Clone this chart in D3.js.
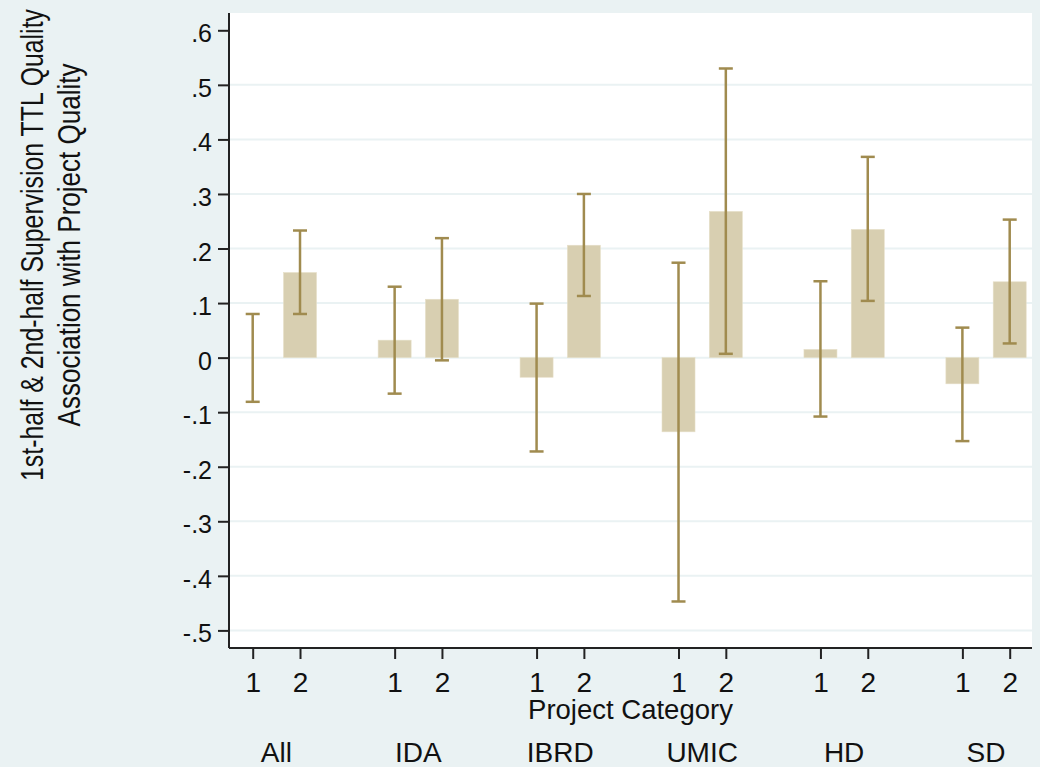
<!DOCTYPE html>
<html>
<head>
	<meta http-equiv="Content-Type" content="text/html;charset=utf-8">
	<title>TTL Quality by Project Category</title>
	<script src="https://d3js.org/d3.v7.min.js"></script>
	<style type="text/css">
		body { margin: 0; background: #eaf2f3; }
		svg { display: block; font-family: "Liberation Sans", Arial, sans-serif; }
		text { fill: #111; }
	</style>
</head>
<body>
	<svg width="1040" height="767"></svg>

	<script type="text/javascript">
		// values
		var groups = ["All", "IDA", "IBRD", "UMIC", "HD", "SD"];
		var halves = ["1", "2"];
		var half1 = [0.000, 0.032, -0.036, -0.136, 0.015, -0.048];
		var half1Lo = [-0.081, -0.066, -0.172, -0.447, -0.108, -0.153];
		var half1Hi = [0.080, 0.130, 0.099, 0.174, 0.140, 0.055];
		var half2 = [0.156, 0.107, 0.206, 0.268, 0.235, 0.139];
		var half2Lo = [0.080, -0.005, 0.113, 0.007, 0.104, 0.026];
		var half2Hi = [0.233, 0.219, 0.300, 0.530, 0.368, 0.253];
		var yTicks = [-0.5, -0.4, -0.3, -0.2, -0.1, 0, 0.1, 0.2, 0.3, 0.4, 0.5, 0.6];
		var gridVals = [-0.5, -0.4, -0.3, -0.2, -0.1, 0, 0.1, 0.2, 0.3, 0.4, 0.5];

		var svg = d3.select("svg");
		var plot = { left: 229, right: 1032, top: 13, bottom: 648 };

		// one slot per bar, one empty slot between groups
		var x = d3.scaleLinear().domain([0, 16]).range([252.7, 1009.7]);
		var y = d3.scaleLinear().domain([-0.5, 0.6]).range([630.4, 30.3]);
		var barW = 33, capW = 14;
		var barCol = "#d8cfb1", errCol = "#a08b4f";

		var rows = [];
		groups.forEach(function (g, i) {
			rows.push({ g: i, h: 0, v: half1[i], lo: half1Lo[i], hi: half1Hi[i] });
			rows.push({ g: i, h: 1, v: half2[i], lo: half2Lo[i], hi: half2Hi[i] });
		});
		function pos(d) { return x(d.g * 3 + d.h); }

		svg.append("rect")
			.attr("x", plot.left).attr("y", plot.top)
			.attr("width", plot.right - plot.left).attr("height", plot.bottom - plot.top)
			.attr("fill", "white");

		svg.selectAll("line.grid")
			.data(gridVals)
			.enter().append("line").attr("class", "grid")
				.attr("x1", plot.left).attr("x2", plot.right)
				.attr("y1", function (v) { return y(v); })
				.attr("y2", function (v) { return y(v); })
				.attr("stroke", "#eaf2f3").attr("stroke-width", 2);

		svg.selectAll("rect.bar")
			.data(rows)
			.enter().append("rect").attr("class", "bar")
				.attr("x", function (d) { return pos(d) - barW / 2; })
				.attr("width", barW)
				.attr("y", function (d) { return y(Math.max(0, d.v)); })
				.attr("height", function (d) { return Math.abs(y(d.v) - y(0)); })
				.attr("fill", barCol)
				.attr("stroke", "#e6dfc8").attr("stroke-width", 0.6);

		var err = svg.selectAll("g.err")
			.data(rows)
			.enter().append("g").attr("class", "err")
				.attr("stroke", errCol).attr("stroke-width", 2.5);
		err.append("line")
			.attr("x1", pos).attr("x2", pos)
			.attr("y1", function (d) { return y(d.lo); })
			.attr("y2", function (d) { return y(d.hi); });
		err.append("line")
			.attr("x1", function (d) { return pos(d) - capW / 2; })
			.attr("x2", function (d) { return pos(d) + capW / 2; })
			.attr("y1", function (d) { return y(d.hi); })
			.attr("y2", function (d) { return y(d.hi); });
		err.append("line")
			.attr("x1", function (d) { return pos(d) - capW / 2; })
			.attr("x2", function (d) { return pos(d) + capW / 2; })
			.attr("y1", function (d) { return y(d.lo); })
			.attr("y2", function (d) { return y(d.lo); });

		// y axis, Stata style labels (.6, -.5)
		var yAxis = d3.axisLeft(y)
			.tickValues(yTicks)
			.tickSize(11)
			.tickPadding(6)
			.tickFormat(function (v) {
				if (v === 0) return "0";
				var s = v.toFixed(1);
				return s.replace("0.", ".");
			});
		var ya = svg.append("g")
			.attr("transform", "translate(" + plot.left + ",0)")
			.call(yAxis);
		ya.select(".domain").attr("d", "M0," + plot.top + "V" + plot.bottom)
			.attr("stroke", "#222").attr("stroke-width", 2);
		ya.selectAll(".tick line").attr("stroke", "#222").attr("stroke-width", 2);
		ya.selectAll(".tick text")
			.attr("font-size", 25).attr("font-family", "Liberation Sans, Arial, sans-serif")
			.attr("fill", "#111").attr("dy", "0.46em");

		// x axis
		var xAxis = d3.axisBottom(x)
			.tickValues(rows.map(function (d) { return d.g * 3 + d.h; }))
			.tickSize(11)
			.tickPadding(13)
			.tickFormat(function (p) { return halves[p % 3]; });
		var xa = svg.append("g")
			.attr("transform", "translate(0," + plot.bottom + ")")
			.call(xAxis);
		xa.select(".domain").attr("d", "M" + plot.left + ",0H" + plot.right)
			.attr("stroke", "#222").attr("stroke-width", 2);
		xa.selectAll(".tick line").attr("stroke", "#222").attr("stroke-width", 2);
		xa.selectAll(".tick text")
			.attr("font-size", 28).attr("font-family", "Liberation Sans, Arial, sans-serif")
			.attr("fill", "#111");

		svg.append("text")
			.attr("x", (plot.left + plot.right) / 2).attr("y", 719)
			.attr("text-anchor", "middle").attr("font-size", 27.5)
			.text("Project Category");

		svg.selectAll("text.group")
			.data(groups)
			.enter().append("text").attr("class", "group")
				.attr("x", function (g, i) { return x(i * 3 + 0.5); })
				.attr("y", 762)
				.attr("text-anchor", "middle").attr("font-size", 28)
				.text(function (g) { return g; });

		// rotated y title, two lines, squeezed along the text like the original
		var ytitle = [
			{ t: "1st-half & 2nd-half Supervision TTL Quality", x: 43, len: 472 },
			{ t: "Association with Project Quality", x: 80, len: 363 }
		];
		svg.selectAll("text.ytitle")
			.data(ytitle)
			.enter().append("text").attr("class", "ytitle")
				.attr("text-anchor", "middle").attr("font-size", 31)
				.text(function (d) { return d.t; })
				.attr("transform", function (d) {
					var sx = d.len / this.getComputedTextLength();
					return "translate(" + d.x + ",245) rotate(-90) scale(" + sx + ",1)";
				});
	</script>
</body>
</html>
